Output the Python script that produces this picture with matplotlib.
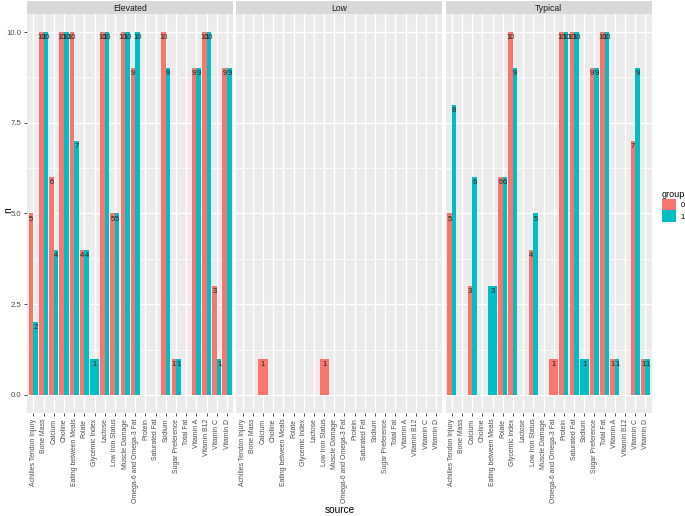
import matplotlib
matplotlib.use("Agg")
import matplotlib.pyplot as plt
from matplotlib.patches import Patch

plt.rcParams['font.family'] = ['Liberation Sans', 'DejaVu Sans']

categories = ["Achilles Tendon Injury", "Bone Mass", "Calcium", "Choline",
              "Eating between Meals", "Folate", "Glycemic Index", "Lactose",
              "Low Iron Status", "Muscle Damage", "Omega-6 and Omega-3 Fat",
              "Protein", "Saturated Fat", "Sodium", "Sugar Preference",
              "Total Fat", "Vitamin A", "Vitamin B12", "Vitamin C", "Vitamin D"]
facets = ["Elevated", "Low", "Typical"]
groups = ["0", "1"]

elevated_0 = [5, 10, 6, 10, 10, 4, None, 10, 5, 10, 9, None, None, 10, 1, None, 9, 10, 3, 9]
elevated_1 = [2, 10, 4, 10, 7, 4, 1, 10, 5, 10, 10, None, None, 9, 1, None, 9, 10, 1, 9]
low_0 = [None, None, 1, None, None, None, None, None, 1, None, None, None, None, None, None, None, None, None, None, None]
low_1 = [None] * 20
typical_0 = [5, None, 3, None, None, 6, 10, None, 4, None, 1, 10, 10, None, 9, 10, 1, None, 7, 1]
typical_1 = [8, None, 6, None, 3, 6, 9, None, 5, None, None, 10, 10, 1, 9, 10, 1, None, 9, 1]

data = {"Elevated": (elevated_0, elevated_1),
        "Low": (low_0, low_1),
        "Typical": (typical_0, typical_1)}
colors = ["#F8766D", "#00BFC4"]

W, H = 685, 516
fig = plt.figure(figsize=(W / 100, H / 100), dpi=100)

panel_left = [27.2, 236.4, 445.6]
panel_w = 206.0
panel_top = 14.0
panel_bottom = 413.0
strip_top = 1.0

for fi, facet in enumerate(facets):
    l = panel_left[fi] / W
    b = (H - panel_bottom) / H
    w = panel_w / W
    h = (panel_bottom - panel_top) / H
    ax = fig.add_axes([l, b, w, h])
    ax.set_facecolor("#EBEBEB")
    for s in ax.spines.values():
        s.set_visible(False)
    ax.set_xlim(0.4, len(categories) + 0.6)
    ax.set_ylim(-0.5, 10.5)
    for yv in [1.25, 3.75, 6.25, 8.75]:
        ax.axhline(yv, color="white", lw=0.5, zorder=0)
    for yv in [0, 2.5, 5, 7.5, 10]:
        ax.axhline(yv, color="white", lw=1.0, zorder=0)
    for xv in range(1, len(categories) + 1):
        ax.axvline(xv, color="white", lw=1.0, zorder=0)

    v0, v1 = data[facet]
    for i in range(len(categories)):
        x = i + 1
        present = [(g, v) for g, v in enumerate((v0[i], v1[i])) if v is not None]
        if len(present) == 1:
            g, v = present[0]
            ax.bar(x, v, width=0.9, color=colors[g], zorder=2)
            ax.annotate(str(v), (x, v), xytext=(0, -4), textcoords="offset points",
                        ha="center", va="center", fontsize=5.5, color="#222222", zorder=3)
        elif len(present) == 2:
            for g, v in present:
                xc = x - 0.225 if g == 0 else x + 0.225
                ax.bar(xc, v, width=0.45, color=colors[g], zorder=2)
                ax.annotate(str(v), (xc, v), xytext=(0, -4), textcoords="offset points",
                            ha="center", va="center", fontsize=5.5, color="#222222", zorder=3)

    ax.set_xticks(range(1, len(categories) + 1))
    ax.set_xticklabels(categories, rotation=90, fontsize=4.95, color="#4D4D4D")
    ax.tick_params(axis="x", length=2.5, width=0.6, color="#333333", pad=1.5)
    if fi == 0:
        ax.set_yticks([0, 2.5, 5, 7.5, 10])
        ax.set_yticklabels(["0.0", "2.5", "5.0", "7.5", "10.0"], fontsize=5.6, color="#4D4D4D")
        ax.tick_params(axis="y", length=2.5, width=0.6, color="#333333", pad=1.5)
    else:
        ax.set_yticks([])

    sax = fig.add_axes([l, (H - panel_top) / H, w, (panel_top - strip_top) / H])
    sax.set_facecolor("#D9D9D9")
    sax.set_xticks([]); sax.set_yticks([])
    for s in sax.spines.values():
        s.set_visible(False)
    sax.text(0.5, 0.45, facet, ha="center", va="center", fontsize=6.2,
             color="#1A1A1A", transform=sax.transAxes)

fig.text(339.5 / W, 1 - 510 / H, "source", ha="center", va="center", fontsize=7.3, color="black")
fig.text(8 / W, 1 - 210 / H, "n", ha="center", va="center", fontsize=7.3, rotation=90, color="black")

handles = [Patch(facecolor=c, edgecolor="none") for c in colors]
leg = fig.legend(handles, groups, title="group", loc="upper left",
                 bbox_to_anchor=(660 / W, 1 - 188 / H), frameon=False,
                 fontsize=5.5, title_fontsize=6.5, handlelength=1.9, handleheight=2.0,
                 handletextpad=0.6, labelspacing=0.0, borderaxespad=0, borderpad=0.2)
leg._legend_box.align = "left"

fig.savefig("out.png", dpi=100)
